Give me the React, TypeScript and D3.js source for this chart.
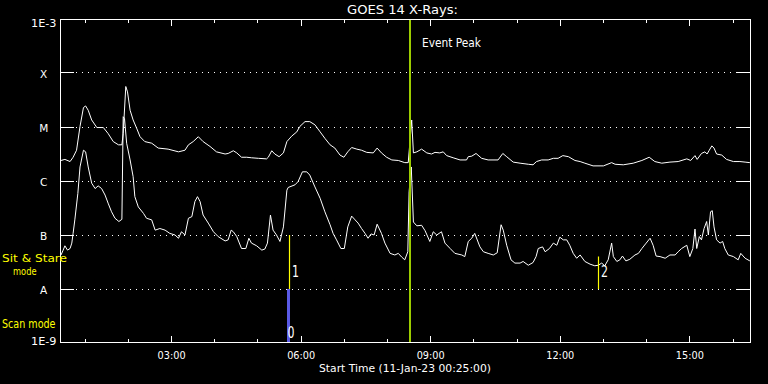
import React from "react";
import * as d3 from "d3";

// Time axis: decimal hours of 11-Jan-23 (start 00:25, 16 hours shown)
const startHour = 0.4167;
const endHour = 16.4167;
const majorTickHours = [3, 6, 9, 12, 15];
const minorTickHours = [1, 2, 4, 5, 7, 8, 10, 11, 13, 14, 16];

// Flux levels (W/m^2) and their labels
const levelFlux = [1e-9, 1e-8, 1e-7, 1e-6, 1e-5, 1e-4, 1e-3];
const levelLabels = ["1E-9", "A", "B", "C", "M", "X", "1E-3"];
const gridFlux = [1e-8, 1e-7, 1e-6, 1e-5, 1e-4];

// Long channel (1-8 A): time [h], log10 flux
const longTime = [
  0.44, 0.53, 0.65, 0.72, 0.8, 0.88, 0.96, 1.01, 1.07, 1.15,
  1.27, 1.42, 1.53, 1.65, 1.77, 1.85, 1.88, 1.94, 1.98, 2.04,
  2.11, 2.19, 2.27, 2.38, 2.54, 2.69, 2.92, 3.16, 3.31, 3.39,
  3.5, 3.62, 3.73, 3.89, 4.04, 4.24, 4.31, 4.43, 4.51, 4.62,
  4.74, 4.85, 5.01, 5.2, 5.24, 5.32, 5.39, 5.49, 5.59, 5.67,
  5.78, 5.9, 5.97, 6.09, 6.2, 6.32, 6.44, 6.55, 6.67, 6.78,
  6.9, 6.99, 7.08, 7.17, 7.29, 7.4, 7.52, 7.67, 7.76, 7.86,
  7.98, 8.1, 8.25, 8.4, 8.48, 8.52, 8.56, 8.6, 8.68, 8.79,
  8.91, 9.02, 9.1, 9.21, 9.29, 9.37, 9.52, 9.68, 9.83, 9.87,
  9.95, 10.05, 10.18, 10.33, 10.56, 10.67, 10.76, 10.91, 11.07, 11.26,
  11.37, 11.45, 11.57, 11.72, 11.84, 11.95, 12.06, 12.19, 12.34, 12.46,
  12.57, 12.76, 13.0, 13.19, 13.27, 13.46, 13.69, 13.89, 14.06, 14.19,
  14.35, 14.54, 14.73, 14.93, 15.02, 15.12, 15.17, 15.27, 15.35, 15.4,
  15.45, 15.51, 15.56, 15.62, 15.74, 15.85, 16.01, 16.16, 16.28, 16.39,
];
const longLog = [
  -5.62, -5.6, -5.64, -5.56, -5.43, -4.99, -4.64, -4.61, -4.69, -4.87,
  -5.01, -5.01, -5.12, -5.27, -5.33, -5.33, -5.12, -4.25, -4.35, -4.69,
  -4.87, -5.02, -5.18, -5.27, -5.3, -5.39, -5.41, -5.46, -5.43, -5.33,
  -5.27, -5.18, -5.27, -5.36, -5.46, -5.5, -5.49, -5.44, -5.48, -5.56,
  -5.56, -5.57, -5.58, -5.59, -5.56, -5.44, -5.5, -5.55, -5.48, -5.27,
  -5.17, -5.09, -4.99, -4.9, -4.9, -4.96, -5.09, -5.21, -5.33, -5.39,
  -5.52, -5.56, -5.46, -5.38, -5.41, -5.43, -5.47, -5.48, -5.39, -5.48,
  -5.56, -5.61, -5.62, -5.66, -5.66, -5.27, -4.87, -5.48, -5.46, -5.41,
  -5.48, -5.5, -5.47, -5.48, -5.46, -5.53, -5.57, -5.61, -5.61, -5.55,
  -5.54, -5.49, -5.58, -5.61, -5.61, -5.49, -5.55, -5.65, -5.67, -5.69,
  -5.7, -5.64, -5.61, -5.61, -5.58, -5.58, -5.53, -5.55, -5.62, -5.64,
  -5.67, -5.72, -5.72, -5.66, -5.69, -5.7, -5.67, -5.62, -5.56, -5.64,
  -5.67, -5.65, -5.64, -5.59, -5.62, -5.53, -5.6, -5.49, -5.46, -5.5,
  -5.43, -5.35, -5.39, -5.5, -5.52, -5.6, -5.64, -5.64, -5.65, -5.66,
];

// Short channel (0.5-4 A): time [h], log10 flux
const shortTime = [
  0.44, 0.49, 0.53, 0.59, 0.65, 0.69, 0.72, 0.76, 0.83, 0.88,
  0.96, 1.01, 1.07, 1.15, 1.23, 1.3, 1.38, 1.46, 1.53, 1.61,
  1.69, 1.78, 1.85, 1.88, 1.91, 1.96, 2.04, 2.11, 2.15, 2.23,
  2.35, 2.42, 2.54, 2.62, 2.73, 2.85, 2.96, 3.08, 3.16, 3.23,
  3.31, 3.39, 3.47, 3.54, 3.6, 3.66, 3.73, 3.85, 3.97, 4.08,
  4.24, 4.31, 4.38, 4.43, 4.51, 4.62, 4.72, 4.79, 4.85, 4.97,
  5.09, 5.16, 5.22, 5.29, 5.35, 5.43, 5.51, 5.59, 5.67, 5.7,
  5.86, 5.93, 6.03, 6.13, 6.2, 6.32, 6.44, 6.55, 6.67, 6.74,
  6.82, 6.92, 7.0, 7.08, 7.17, 7.25, 7.32, 7.4, 7.48, 7.55,
  7.62, 7.69, 7.76, 7.86, 7.94, 8.06, 8.17, 8.25, 8.33, 8.4,
  8.47, 8.5, 8.55, 8.6, 8.68, 8.79, 8.87, 8.98, 9.06, 9.14,
  9.25, 9.33, 9.45, 9.56, 9.72, 9.79, 9.87, 9.95, 10.02, 10.14,
  10.22, 10.33, 10.45, 10.54, 10.63, 10.68, 10.76, 10.86, 10.95, 11.07,
  11.14, 11.26, 11.37, 11.44, 11.49, 11.59, 11.65, 11.75, 11.84, 11.92,
  11.99, 12.07, 12.15, 12.22, 12.3, 12.38, 12.46, 12.57, 12.69, 12.8,
  12.88, 12.96, 13.03, 13.11, 13.19, 13.23, 13.31, 13.38, 13.44, 13.52,
  13.61, 13.73, 13.81, 13.89, 13.99, 14.08, 14.15, 14.22, 14.31, 14.43,
  14.54, 14.66, 14.73, 14.81, 14.93, 15.0, 15.07, 15.12, 15.16, 15.22,
  15.27, 15.33, 15.39, 15.43, 15.48, 15.52, 15.56, 15.62, 15.7, 15.76,
  15.81, 15.89, 16.01, 16.12, 16.18, 16.28, 16.39,
];
const shortLog = [
  -7.37, -7.28, -7.2, -7.28, -7.25, -7.15, -6.97, -6.72, -6.23, -5.74,
  -5.43, -5.46, -5.74, -6.04, -6.14, -6.09, -6.14, -6.26, -6.41, -6.57,
  -6.69, -6.75, -6.71, -4.81, -4.84, -5.3, -5.61, -5.92, -6.29, -6.48,
  -6.6, -6.69, -6.72, -6.91, -6.88, -6.91, -6.97, -7.0, -7.06, -6.94,
  -7.0, -6.69, -6.66, -6.38, -6.29, -6.38, -6.63, -6.78, -6.94, -7.03,
  -7.11, -7.09, -6.91, -6.94, -7.03, -7.25, -7.25, -7.06, -7.15, -7.2,
  -7.28, -7.26, -7.15, -6.63, -6.91, -7.0, -7.12, -6.85, -6.17, -6.12,
  -6.07, -6.01, -5.83, -5.83, -5.89, -6.11, -6.32, -6.57, -6.81, -6.97,
  -7.09, -7.25, -7.25, -6.85, -6.65, -6.72, -6.78, -6.88, -6.97, -7.06,
  -6.98, -7.0, -6.8, -6.97, -7.15, -7.34, -7.37, -7.34, -7.41, -7.46,
  -7.31, -6.2, -5.74, -6.76, -6.83, -6.82, -6.92, -7.12, -6.94, -7.0,
  -6.94, -7.15, -7.25, -7.34, -7.37, -7.4, -7.12, -7.06, -6.97, -7.22,
  -7.31, -7.34, -7.37, -7.33, -6.81, -6.91, -7.19, -7.46, -7.52, -7.52,
  -7.49, -7.56, -7.51, -7.4, -7.25, -7.22, -7.31, -7.25, -7.15, -7.19,
  -7.04, -7.09, -7.09, -7.19, -7.34, -7.43, -7.37, -7.49, -7.54, -7.57,
  -7.56, -7.52, -7.57, -7.46, -7.15, -7.4, -7.49, -7.46, -7.39, -7.48,
  -7.45, -7.37, -7.34, -7.25, -7.15, -7.06, -7.19, -7.39, -7.4, -7.43,
  -7.37, -7.37, -7.31, -7.25, -7.19, -7.4, -7.25, -6.89, -7.25, -7.03,
  -7.09, -6.88, -6.75, -7.0, -6.57, -6.55, -6.85, -7.09, -7.15, -7.12,
  -7.25, -7.37, -7.4, -7.46, -7.34, -7.43, -7.48,
];

// Event peak
const eventPeakHour = 8.54;
const eventPeakLabel = "Event Peak";

// Observation markers
const markerLabels = ["0", "1", "2"];
const markerModes = ["scan", "sitstare", "sitstare"];
const markerTimes = [5.7, 5.725, 12.88];
const markerTopFlux = [1e-8, 1e-7, 4e-8];
const markerBottomFlux = [1e-9, 1e-8, 1e-8];

const titleText = "GOES 14 X-Rays:";
const xAxisTitle = "Start Time (11-Jan-23 00:25:00)";

const FONT = "DejaVu Sans, Verdana, sans-serif";

export default function App() {
  const W = 768;
  const H = 384;
  const left = 60;
  const right = 751;
  const top = 19;
  const bottom = 343;

  const x = d3.scaleLinear().domain([startHour, endHour]).range([left, right]);
  const y = d3.scaleLog().domain([1e-9, 1e-3]).range([bottom, top]);

  const longData = d3.zip(longTime, longLog).map(([t, l]) => ({ t, f: Math.pow(10, l) }));
  const shortData = d3.zip(shortTime, shortLog).map(([t, l]) => ({ t, f: Math.pow(10, l) }));

  const line = d3
    .line<{ t: number; f: number }>()
    .x((d) => x(d.t))
    .y((d) => y(d.f));

  const px = (v: number) => Math.floor(v) + 0.5;
  const fmt = (h: number) => (h < 10 ? "0" : "") + h + ":00";

  return (
    <svg
      width={W}
      height={H}
      style={{ position: "absolute", left: 0, top: 0, background: "#000" }}
    >
      <rect x={0} y={0} width={W} height={H} fill="#000" />

      {/* title */}
      <text x={347} y={14} fill="#fff" fontFamily={FONT} fontSize={12.5} textLength={111} lengthAdjust="spacingAndGlyphs">
        {titleText}
      </text>

      {/* dotted grid and level ticks */}
      {gridFlux.map((f) => (
        <g key={"g" + f} shapeRendering="crispEdges">
          <line x1={76} x2={736} y1={px(y(f))} y2={px(y(f))} stroke="#fff" strokeDasharray="1 5" />
          <line x1={left} x2={left + 14} y1={px(y(f))} y2={px(y(f))} stroke="#fff" />
          <line x1={right - 15} x2={right} y1={px(y(f))} y2={px(y(f))} stroke="#fff" />
        </g>
      ))}

      {/* level labels */}
      {levelFlux.map((f, i) => {
        const lab = levelLabels[i];
        const yy = y(f);
        if (lab.length > 1) {
          const by = i === 0 ? yy + 1.5 : yy + 8;
          return (
            <text key={"l" + i} x={31} y={by} fill="#fff" fontFamily={FONT} fontSize={10.5} textLength={25.5} lengthAdjust="spacingAndGlyphs">
              {lab}
            </text>
          );
        }
        return (
          <text key={"l" + i} x={43.7} y={yy + 4.5} fill="#fff" fontFamily={FONT} fontSize={10.5} textAnchor="middle">
            {lab}
          </text>
        );
      })}

      {/* x ticks top and bottom */}
      <g shapeRendering="crispEdges" stroke="#fff">
        {minorTickHours.map((h) => (
          <g key={"m" + h}>
            <line x1={px(x(h))} x2={px(x(h))} y1={top} y2={top + 4} />
            <line x1={px(x(h))} x2={px(x(h))} y1={bottom} y2={bottom - 4} />
          </g>
        ))}
        {majorTickHours.map((h) => (
          <g key={"M" + h}>
            <line x1={px(x(h))} x2={px(x(h))} y1={top} y2={top + 7} />
            <line x1={px(x(h))} x2={px(x(h))} y1={bottom} y2={bottom - 7} />
          </g>
        ))}
      </g>
      {majorTickHours.map((h) => (
        <text key={"t" + h} x={x(h)} y={359} fill="#fff" fontFamily={FONT} fontSize={10.5} textAnchor="middle" textLength={28} lengthAdjust="spacingAndGlyphs">
          {fmt(h)}
        </text>
      ))}
      <text x={319} y={372} fill="#fff" fontFamily={FONT} fontSize={11} textLength={172} lengthAdjust="spacingAndGlyphs">
        {xAxisTitle}
      </text>

      {/* curves */}
      <path d={line(longData) || ""} fill="none" stroke="#fff" strokeWidth={1} />
      <path d={line(shortData) || ""} fill="none" stroke="#fff" strokeWidth={1} />

      {/* event peak */}
      <rect
        x={Math.floor(x(eventPeakHour)) - 1}
        y={top}
        width={2}
        height={bottom - top}
        fill="#9ccc00"
        shapeRendering="crispEdges"
      />
      <text x={422} y={47} fill="#fff" fontFamily={FONT} fontSize={11.5} textLength={59} lengthAdjust="spacingAndGlyphs">
        {eventPeakLabel}
      </text>

      {/* observation markers */}
      {markerLabels.map((lab, i) => {
        const xx = Math.floor(x(markerTimes[i]));
        const scan = markerModes[i] === "scan";
        const y1 = y(markerTopFlux[i]);
        const y2 = y(markerBottomFlux[i]);
        return (
          <g key={"k" + i}>
            {scan ? (
              <rect x={xx - 1} y={y1} width={3} height={y2 - y1} fill="#5a5ae6" shapeRendering="crispEdges" />
            ) : (
              <line x1={xx + 0.5} x2={xx + 0.5} y1={y1} y2={y2} stroke="#ffff00" strokeWidth={1.2} />
            )}
            <text
              x={scan ? xx - 0.5 : xx + 3}
              y={scan ? y2 - 5 : y(1e-8) - 12}
              fill="#fff"
              fontFamily={FONT}
              fontSize={15}
              textLength={7}
              lengthAdjust="spacingAndGlyphs"
            >
              {lab}
            </text>
          </g>
        );
      })}

      {/* frame */}
      <rect
        x={left + 0.5}
        y={top + 0.5}
        width={right - left - 1}
        height={bottom - top - 1}
        fill="none"
        stroke="#fff"
        shapeRendering="crispEdges"
      />

      {/* mode labels */}
      <text x={2} y={262} fill="#ffff00" fontFamily={FONT} fontSize={11} textLength={65} lengthAdjust="spacingAndGlyphs">
        Sit &amp; Stare
      </text>
      <text x={13} y={275} fill="#ffff00" fontFamily={FONT} fontSize={11} textLength={23.5} lengthAdjust="spacingAndGlyphs">
        mode
      </text>
      <text x={2} y={327.5} fill="#ffff00" fontFamily={FONT} fontSize={11.5} textLength={53.5} lengthAdjust="spacingAndGlyphs">
        Scan mode
      </text>
    </svg>
  );
}
